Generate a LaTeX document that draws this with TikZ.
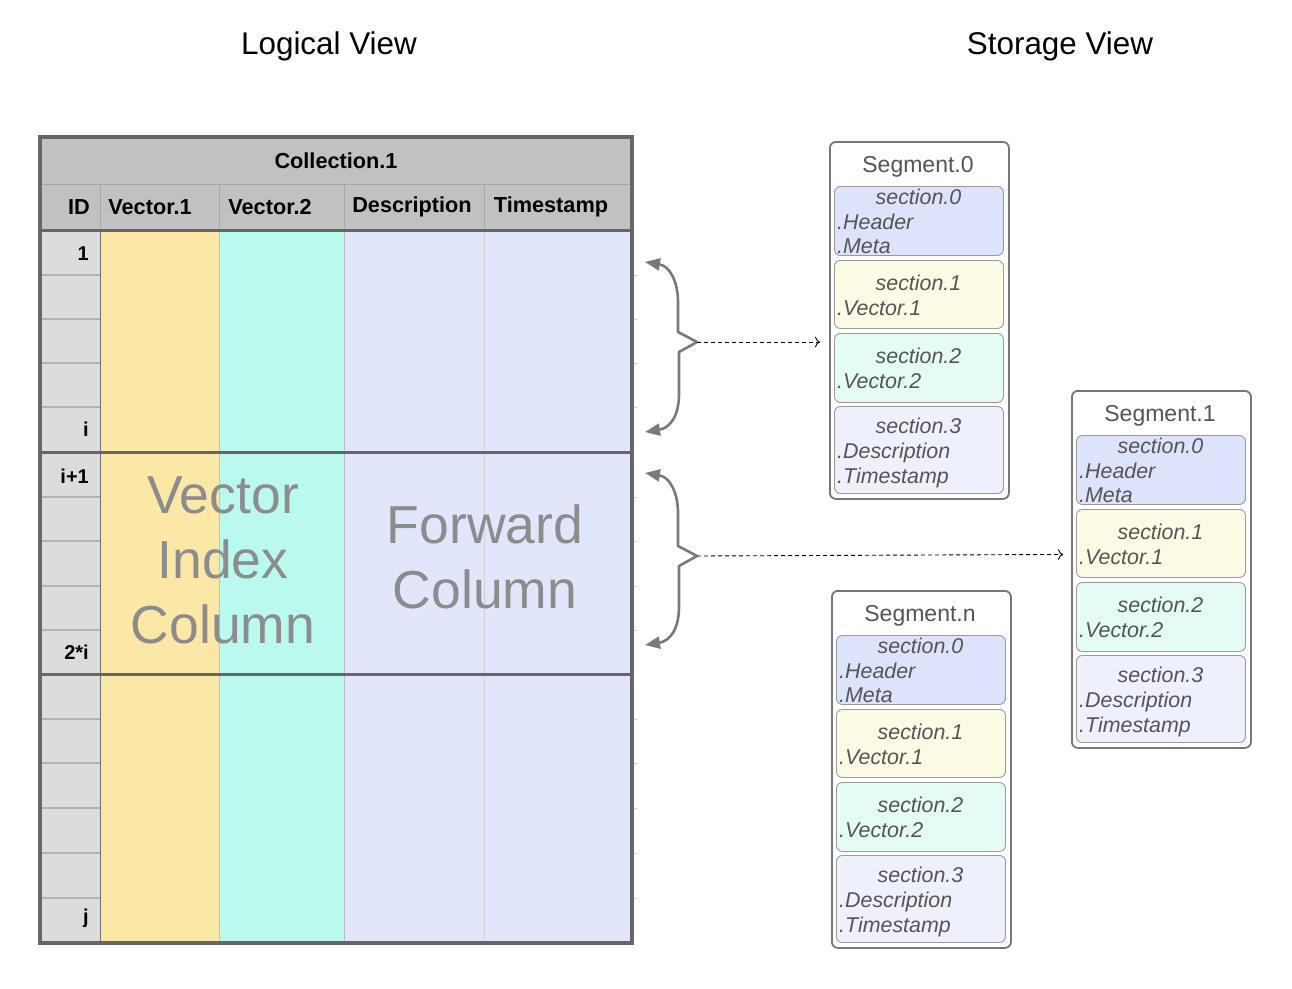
\documentclass[tikz,border=0pt]{standalone}
\usepackage{fontspec}
\setmainfont{Liberation Sans}
\usetikzlibrary{arrows.meta}
\definecolor{hdrc}{HTML}{C0C1C0}
\definecolor{idc}{HTML}{DCDCDC}
\definecolor{vonec}{HTML}{FBE8A6}
\definecolor{vtwoc}{HTML}{BAF9EE}
\definecolor{fwdc}{HTML}{E1E6FA}
\definecolor{bordc}{HTML}{666666}
\definecolor{bigc}{HTML}{8C8C8C}
\definecolor{segc}{HTML}{777777}
\definecolor{secc}{HTML}{9A9A9A}
\definecolor{txtc}{HTML}{555555}
\definecolor{bracec}{HTML}{7A7A7A}
\definecolor{szero}{HTML}{DDE3FB}
\definecolor{sone}{HTML}{FDFBE6}
\definecolor{stwo}{HTML}{E4FBF6}
\definecolor{sthree}{HTML}{EEF0FC}
\newcommand{\mkseg}[4]{%
\begin{scope}[shift={(#2,#3)}]
\node[segbox, minimum height=357pt] (#1) at (0,0) {};
\node[segtitle] (#1-t) at (89,26) {#4};
\node[secbox, fill=szero, minimum height=69pt] (#1-s0) at (5,45) {};
\node[sectitle] (#1-s0a) at (89.5,56) {section.0};
\node[secline] (#1-s0b) at (8,81) {.Header};
\node[secline] (#1-s0c) at (8,105) {.Meta};
\node[secbox, fill=sone, minimum height=68pt] (#1-s1) at (5,119) {};
\node[sectitle] (#1-s1a) at (89.5,142) {section.1};
\node[secline] (#1-s1b) at (8,167) {.Vector.1};
\node[secbox, fill=stwo, minimum height=69pt] (#1-s2) at (5,192) {};
\node[sectitle] (#1-s2a) at (89.5,215) {section.2};
\node[secline] (#1-s2b) at (8,240) {.Vector.2};
\node[secbox, fill=sthree, minimum height=87pt] (#1-s3) at (5,265) {};
\node[sectitle] (#1-s3a) at (89.5,285) {section.3};
\node[secline] (#1-s3b) at (8,312) {.Description};
\node[secline] (#1-s3c) at (8,337) {.Timestamp};
\end{scope}}
\begin{document}
\begin{tikzpicture}[x=1pt,y=-1pt,
  title/.style={font=\fontsize{31.4}{36}\selectfont, text=black},
  hdrlab/.style={font=\bfseries\fontsize{21.7}{25}\selectfont, inner sep=0pt},
  idlab/.style={font=\bfseries\fontsize{20}{24}\selectfont, anchor=east, inner sep=0pt},
  bigtxt/.style={font=\fontsize{53.5}{65}\selectfont, text=bigc, align=center},
  segbox/.style={draw=segc, line width=1.8pt, rounded corners=6pt, fill=white, minimum width=179pt, anchor=north west, inner sep=0pt},
  secbox/.style={draw=secc, line width=0.9pt, rounded corners=6pt, minimum width=169pt, anchor=north west, inner sep=0pt},
  segtitle/.style={font=\fontsize{23}{27}\selectfont, text=txtc, inner sep=0pt},
  sectitle/.style={font=\itshape\fontsize{21.4}{25}\selectfont, text=txtc, inner sep=0pt},
  secline/.style={font=\itshape\fontsize{21.4}{25}\selectfont, text=txtc, anchor=west, inner sep=0pt},
  brace/.style={draw=bracec, line width=2.6pt, line join=round, {Triangle[length=15pt,width=12pt]}-{Triangle[length=15pt,width=12pt]}},
  dasharr/.style={draw=black, line width=0.9pt, dash pattern=on 4pt off 3pt, -{To[length=5pt]}},
  rowline/.style={draw=gray!60, line width=1.5pt},
  colline/.style={draw=gray!50, line width=1pt},
]
\useasboundingbox (0,0) rectangle (1292,988);
% titles
\node[title] (lv) at (329,46) {Logical View};
\node[title] (sv) at (1060,46) {Storage View};
% table fills
\fill[hdrc] (40,137) rectangle (632,230);
\fill[idc] (40,230) rectangle (100,943);
\fill[vonec] (100,230) rectangle (219,943);
\fill[vtwoc] (219,230) rectangle (344,943);
\fill[fwdc] (344,230) rectangle (632,943);
% header grid
\draw[colline, draw=gray!70] (40,184) -- (632,184);
\foreach \x in {100,219,344,484} \draw[colline, draw=gray!70] (\x,184) -- (\x,230);
% body column lines
\draw[draw=gray!90!black, line width=1pt] (100,230) -- (100,943);
\draw[colline] (219,230) -- (219,943);
\draw[colline] (344,230) -- (344,943);
\draw[colline, draw=gray!35] (484,230) -- (484,943);
% row lines in ID column + right ticks
\foreach \y in {275,319,363,407,497,541,586,630,719,763,808,853,898} {
  \draw[rowline] (40,\y) -- (100,\y);
  \draw[draw=gray!35, line width=1pt] (632,\y) -- (637,\y);
}
% thick separators and border
\draw[draw=bordc, line width=3pt] (40,230) -- (632,230);
\draw[draw=bordc, line width=3pt] (40,452) -- (632,452);
\draw[draw=bordc, line width=3pt] (40,674) -- (632,674);
\draw[draw=bordc, line width=4pt] (40,137) rectangle (632,943);
% header labels
\node[hdrlab] (coll) at (336,161) {Collection.1};
\node[hdrlab] (hid) at (79,207) {ID};
\node[hdrlab] (hv1) at (150,207) {Vector.1};
\node[hdrlab] (hv2) at (270,207) {Vector.2};
\node[hdrlab] (hdesc) at (412,207) {Description};
\node[hdrlab] (hts) at (551,207) {Timestamp};
% id labels
\node[idlab] (r1) at (89,254) {1};
\node[idlab] (ri) at (89,429) {i};
\node[idlab] (ri1) at (89,476) {i+1};
\node[idlab] (r2i) at (89,652) {2*i};
\node[idlab] (rj) at (89,918) {j};
% big labels
\node[bigtxt] (vic) at (223,560) {Vector\\Index\\Column};
\node[bigtxt] (fwc) at (485,557) {Forward\\Column};
% segments
\mkseg{seg0}{829}{141}{Segment.0}
\mkseg{seg1}{1071}{390}{Segment.1}
\mkseg{segn}{831}{590}{Segment.n}
% braces
\coordinate (b1t) at (645,262);
\coordinate (b1b) at (645,432);
\coordinate (b1p) at (697,342);
\draw[brace] (b1t) .. controls (670,266) and (678,282) .. (678,302) -- (678,332) -- (b1p) -- (679,352) -- (679,394) .. controls (679,416) and (670,428) .. (b1b);
\coordinate (b2t) at (645,473);
\coordinate (b2b) at (645,645);
\coordinate (b2p) at (697,556);
\draw[brace] (b2t) .. controls (670,477) and (678,493) .. (678,513) -- (678,546) -- (b2p) -- (679,566) -- (679,607) .. controls (679,629) and (670,641) .. (b2b);
% dashed connectors
\draw[dasharr, shorten >=9pt] (b1p) -- (b1p -| seg0.west);
\draw[dasharr, shorten >=8pt] (b2p) -- ([yshift=15pt]seg1.west);
\end{tikzpicture}
\end{document}
